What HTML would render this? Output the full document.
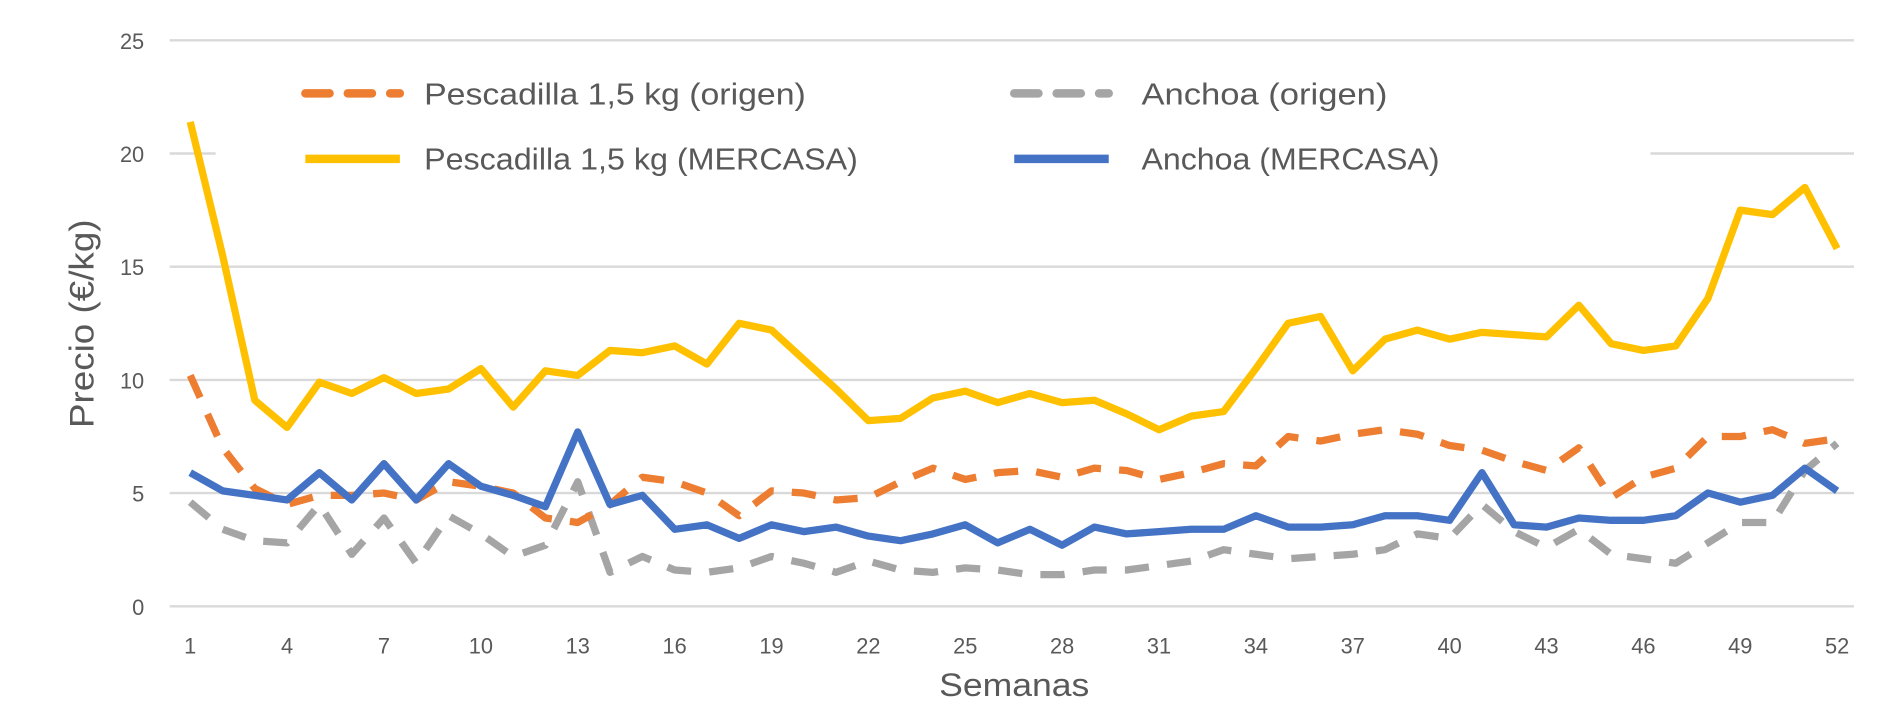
<!DOCTYPE html>
<html><head><meta charset="utf-8"><style>
html,body{margin:0;padding:0;background:#fff;width:1900px;height:713px;overflow:hidden}
svg{display:block}
text{font-family:"Liberation Sans",sans-serif;fill:#595959}
</style></head><body>
<svg id="c" width="1900" height="713" viewBox="0 0 1568 588" preserveAspectRatio="none" xmlns="http://www.w3.org/2000/svg">
<rect width="1568" height="588" fill="#fff"/>
<g id="grid" stroke="#d9d9d9" stroke-width="2"></g>
<g id="ylab" font-size="18" text-anchor="end"></g>
<g id="xlab" font-size="18" text-anchor="middle"></g>
<rect x="178" y="50" width="1184" height="100" fill="#fff"/>
<g id="series" fill="none" stroke-linejoin="round"></g>
<text x="837" y="574" font-size="27" text-anchor="middle" textLength="124" lengthAdjust="spacingAndGlyphs">Semanas</text>
<text transform="translate(77,267) rotate(-90)" font-size="28" text-anchor="middle" textLength="172" lengthAdjust="spacingAndGlyphs">Precio (€/kg)</text>
<g font-size="25">
<line x1="252" y1="77" x2="330" y2="77" stroke="#ed7d31" stroke-width="7" stroke-dasharray="20,15" stroke-linecap="round"/>
<text x="350" y="86" textLength="315" lengthAdjust="spacingAndGlyphs">Pescadilla 1,5 kg (origen)</text>
<line x1="252" y1="131" x2="330" y2="131" stroke="#ffc000" stroke-width="7"/>
<text x="350" y="140" textLength="358" lengthAdjust="spacingAndGlyphs">Pescadilla 1,5 kg (MERCASA)</text>
<line x1="837" y1="77" x2="915" y2="77" stroke="#a5a5a5" stroke-width="7" stroke-dasharray="20,15" stroke-linecap="round"/>
<text x="942" y="86" textLength="203" lengthAdjust="spacingAndGlyphs">Anchoa (origen)</text>
<line x1="837" y1="131" x2="915" y2="131" stroke="#4472c4" stroke-width="7"/>
<text x="942" y="140" textLength="246" lengthAdjust="spacingAndGlyphs">Anchoa (MERCASA)</text>
</g>
</svg>
<script>
var NS="http://www.w3.org/2000/svg";
function el(p,t,a,txt){var e=document.createElementNS(NS,t);for(var k in a)e.setAttribute(k,a[k]);if(txt!==undefined)e.textContent=txt;document.getElementById(p).appendChild(e);}
function Y(v){return 500-v*18.67;}
function X(w){return 157+(w-1)*26.65;}
for(var v=0;v<=25;v+=5){el("grid","line",{x1:140,x2:1530,y1:Y(v),y2:Y(v)});el("ylab","text",{x:119,y:Y(v)+7},v);}
for(var w=1;w<=52;w+=3)el("xlab","text",{x:X(w),y:539},w);
var yel=[21.4,15.5,9.1,7.9,9.9,9.4,10.1,9.4,9.6,10.5,8.8,10.4,10.2,11.3,11.2,11.5,10.7,12.5,12.2,10.9,9.6,8.2,8.3,9.2,9.5,9.0,9.4,9.0,9.1,8.5,7.8,8.4,8.6,10.5,12.5,12.8,10.4,11.8,12.2,11.8,12.1,12.0,11.9,13.3,11.6,11.3,11.5,13.6,17.5,17.3,18.5,15.8];
var ora=[10.2,7,5.2,4.5,4.9,4.9,5.0,4.7,5.5,5.3,5.0,3.9,3.7,4.5,5.7,5.5,5.0,4.0,5.1,5.0,4.7,4.8,5.5,6.1,5.6,5.9,6.0,5.7,6.1,6.0,5.6,5.9,6.3,6.2,7.5,7.3,7.6,7.8,7.6,7.1,6.9,6.4,6.0,7.0,4.8,5.7,6.1,7.5,7.5,7.8,7.2,7.4];
var gry=[4.6,3.4,2.9,2.8,4.5,2.3,3.9,1.9,4.0,3.2,2.2,2.7,5.5,1.5,2.2,1.6,1.5,1.7,2.2,1.9,1.5,2.0,1.6,1.5,1.7,1.6,1.4,1.4,1.6,1.6,1.8,2.0,2.5,2.3,2.1,2.2,2.3,2.5,3.2,3.0,4.5,3.3,2.6,3.4,2.3,2.1,1.9,2.8,3.7,3.7,6.0,7.2];
var blu=[5.9,5.1,4.9,4.7,5.9,4.7,6.3,4.7,6.3,5.3,4.9,4.4,7.7,4.5,4.9,3.4,3.6,3.0,3.6,3.3,3.5,3.1,2.9,3.2,3.6,2.8,3.4,2.7,3.5,3.2,3.3,3.4,3.4,4.0,3.5,3.5,3.6,4.0,4.0,3.8,5.9,3.6,3.5,3.9,3.8,3.8,4.0,5.0,4.6,4.9,6.1,5.1];
function pts(a){return a.map(function(v,i){return X(i+1).toFixed(1)+","+Y(v).toFixed(1)}).join(" ");}
el("series","polyline",{points:pts(gry),stroke:"#a5a5a5","stroke-width":6,"stroke-dasharray":"20,15"});
el("series","polyline",{points:pts(ora),stroke:"#ed7d31","stroke-width":6,"stroke-dasharray":"20,15"});
el("series","polyline",{points:pts(blu),stroke:"#4472c4","stroke-width":6});
el("series","polyline",{points:pts(yel),stroke:"#ffc000","stroke-width":6});
</script>
</body></html>
